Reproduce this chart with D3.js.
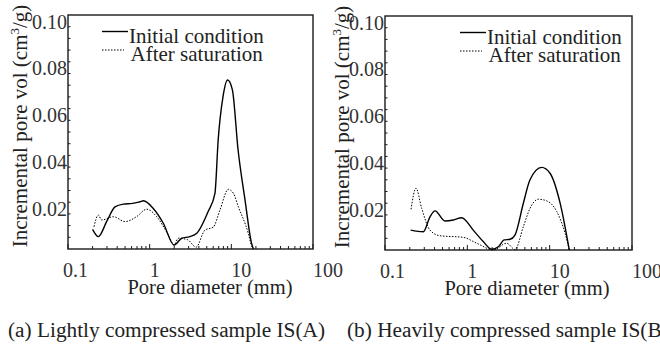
<!DOCTYPE html>
<html>
<head>
<meta charset="utf-8">
<script src="https://cdn.jsdelivr.net/npm/d3@7"></script>
<style>
  html, body { margin: 0; padding: 0; background: #fff; }
  svg { display: block; }
  svg text { font-family: 'Liberation Serif', 'Times New Roman', 'DejaVu Serif', serif; }
</style>
</head>
<body>
<svg id="chart" width="660" height="345"></svg>
<script>
// pore diameter (mm) / incremental pore volume (cm3/g)
const xTicks = [0.1, 1, 10, 100];
const yTicks = [0.02, 0.04, 0.06, 0.08, 0.10];
const legendNames = ['Initial condition', 'After saturation'];
const captions = ['(a) Lightly compressed sample IS(A)', '(b) Heavily compressed sample IS(B'];

// (a) lightly compressed
const initialA = [
  [0.20, 0.0084], [0.235, 0.0053], [0.30, 0.0120], [0.376, 0.0180], [0.475, 0.0192],
  [0.62, 0.0195], [0.76, 0.0202], [0.84, 0.0206], [1.10, 0.0174], [1.47, 0.0110],
  [1.99, 0.0017], [2.47, 0.0046], [3.10, 0.0053], [3.77, 0.0067], [5.20, 0.0160],
  [6.30, 0.0238], [6.90, 0.0466], [7.90, 0.0650], [9.00, 0.0722], [10.3, 0.0680],
  [12.1, 0.0423], [14.7, 0.0210], [17.7, 0.0024], [18.6, 0]
];
const saturatedA = [
  [0.208, 0.0095], [0.235, 0.0145], [0.259, 0.0124], [0.359, 0.0138], [0.50, 0.0117],
  [0.69, 0.0138], [0.92, 0.0170], [1.22, 0.0138], [1.69, 0.0060], [1.99, 0.0017],
  [2.24, 0.0046], [2.90, 0.0040], [3.70, 0.0008], [4.76, 0.0081], [6.00, 0.0093],
  [7.26, 0.0167], [9.18, 0.0255], [10.6, 0.0238], [12.2, 0.0180], [16.1, 0.0067],
  [17.7, 0.0010]
];

// (b) heavily compressed
const initialB = [
  [0.205, 0.0085], [0.292, 0.0078], [0.352, 0.0142], [0.405, 0.0167], [0.535, 0.0124],
  [0.676, 0.0128], [0.853, 0.0138], [1.18, 0.0085], [1.56, 0.0036], [1.98, 0.0003],
  [2.38, 0.0014], [2.79, 0.0043], [3.30, 0.0046], [3.79, 0.0064], [4.79, 0.0200],
  [5.77, 0.0300], [8.00, 0.0353], [10.1, 0.0328], [13.4, 0.0200], [17.3, 0]
];
const saturatedB = [
  [0.207, 0.0174], [0.238, 0.0264], [0.279, 0.0178], [0.352, 0.0085], [0.466, 0.0061],
  [0.894, 0.0054], [1.30, 0.0029], [2.07, 0.0000], [3.00, 0.0029], [3.80, 0.0002],
  [4.79, 0.0100], [5.77, 0.0178], [7.28, 0.0217], [9.20, 0.0210], [12.2, 0.0164],
  [15.4, 0.0071], [17.3, 0]
];

const panels = [
  { left: 68, top: 15, width: 245, height: 234, series: [initialA, saturatedA],
    legendX: 34, titleX: 27, captionX: 8 },
  { left: 385, top: 16, width: 247, height: 234, series: [initialB, saturatedB],
    legendX: 75, titleX: 349, captionX: 347 }
];

const svg = d3.select('#chart');
const ink = '#1a1a1a';
const serif = "'Liberation Serif', 'Times New Roman', serif";
const styles = [
  { width: 1.4, dash: null },
  { width: 1, dash: '1.5,1.5' }
];

const drawPanel = (p, i) => {
  const x = d3.scaleLog().domain([0.1, 100]).range([p.left, p.left + p.width]);
  const y = d3.scaleLinear().domain([0, 0.10]).range([p.top + p.height, p.top]);
  const g = svg.append('g').attr('font-family', serif);
  const bottom = p.top + p.height;

  //минорные тики по y (внутрь)
  const yMinor = d3.range(1, 20).map(k => k * 0.005);
  g.append('g').selectAll('line')
    .data(yMinor)
    .join('line')
    .attr('x1', p.left).attr('x2', p.left + 2.5)
    .attr('y1', d => y(d)).attr('y2', d => y(d))
    .attr('stroke', ink).attr('stroke-width', 1);

  //тики по x (логарифмические)
  const xMinor = [];
  [0.1, 1, 10].forEach(dec => d3.range(2, 10).forEach(k => xMinor.push(dec * k)));
  g.append('g').selectAll('line')
    .data(xMinor)
    .join('line')
    .attr('x1', d => x(d)).attr('x2', d => x(d))
    .attr('y1', bottom).attr('y2', bottom - 3)
    .attr('stroke', ink).attr('stroke-width', 1);
  g.append('g').selectAll('line')
    .data(xTicks)
    .join('line')
    .attr('x1', d => x(d)).attr('x2', d => x(d))
    .attr('y1', bottom).attr('y2', bottom - 5)
    .attr('stroke', ink).attr('stroke-width', 1);

  //рамка
  g.append('rect')
    .attr('x', p.left).attr('y', p.top)
    .attr('width', p.width).attr('height', p.height)
    .attr('fill', 'none').attr('stroke', ink).attr('stroke-width', 1.4);

  //подписи y
  g.append('g').selectAll('text')
    .data(yTicks)
    .join('text')
    .attr('x', p.left - 1)
    .attr('y', d => y(d) + 13.5)
    .attr('text-anchor', 'end')
    .attr('font-size', 20)
    .attr('fill', '#333')
    .text(d => d3.format('.2f')(d));

  //подписи x
  g.append('g').selectAll('text')
    .data(xTicks)
    .join('text')
    .attr('x', d => x(d) + (d < 1 ? -5 : 0))
    .attr('y', bottom + 28)
    .attr('text-anchor', 'start')
    .attr('font-size', 20)
    .attr('fill', '#333')
    .text(d => d3.format('~g')(d));

  g.append('text')
    .attr('x', p.left + 142)
    .attr('y', bottom + 45)
    .attr('text-anchor', 'middle')
    .attr('font-size', 20.5)
    .attr('fill', '#222')
    .text('Pore diameter (mm)');

  const yTitle = g.append('text')
    .attr('transform', `translate(${p.titleX},${p.top + 111}) rotate(-90)`)
    .attr('text-anchor', 'middle')
    .attr('font-size', 21)
    .attr('fill', '#222');
  yTitle.append('tspan').text('Incremental pore vol (cm');
  yTitle.append('tspan').attr('font-size', 13).attr('dy', -8).text('3');
  yTitle.append('tspan').attr('dy', 8).text('/g)');

  //кривые
  const line = d3.line()
    .x(d => x(d[0]))
    .y(d => y(d[1]))
    .curve(d3.curveMonotoneX);

  g.append('g').selectAll('path')
    .data(p.series)
    .join('path')
    .attr('d', line)
    .attr('fill', 'none')
    .attr('stroke', '#000')
    .attr('stroke-width', (d, k) => styles[k].width)
    .attr('stroke-dasharray', (d, k) => styles[k].dash);

  //легенда
  const lg = g.append('g').attr('transform', `translate(${p.left + p.legendX},${p.top})`);
  legendNames.forEach((name, k) => {
    lg.append('line')
      .attr('x1', 0).attr('x2', k === 0 ? 26 : 22)
      .attr('y1', 16.5 + k * 18.5).attr('y2', 16.5 + k * 18.5)
      .attr('stroke', '#000')
      .attr('stroke-width', styles[k].width)
      .attr('stroke-dasharray', styles[k].dash);
    lg.append('text')
      .attr('x', 27 + k * 1.5)
      .attr('y', 28 + k * 18)
      .attr('font-size', 21)
      .attr('fill', '#222')
      .text(name);
  });

  //подпись панели
  svg.append('text')
    .attr('x', p.captionX)
    .attr('y', 337)
    .attr('font-family', serif)
    .attr('font-size', 21.3)
    .attr('fill', '#222')
    .text(captions[i]);
};

panels.forEach(drawPanel);
</script>
</body>
</html>
